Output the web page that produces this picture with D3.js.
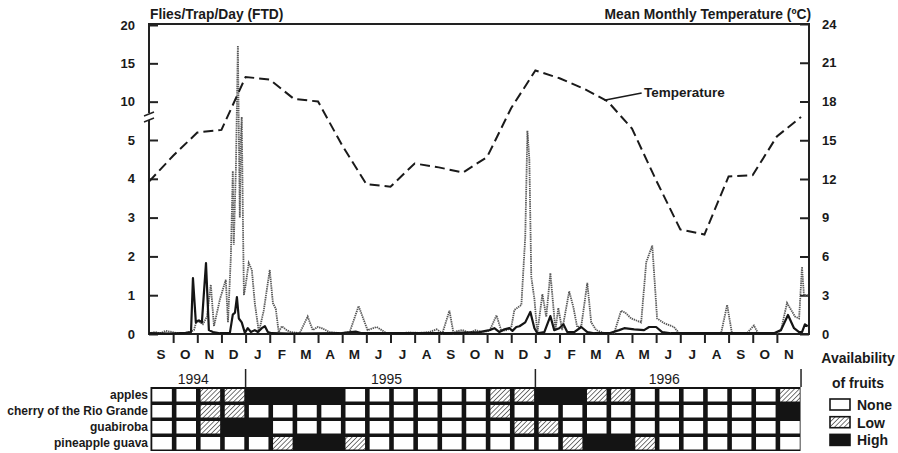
<!DOCTYPE html>
<html>
<head>
<meta charset="utf-8">
<script src="https://cdn.jsdelivr.net/npm/d3@7"></script>
<style>
body { margin: 0; background: #fff; }
text { font-family: "Liberation Sans", Arial, sans-serif; fill: #1a1a1a; }
</style>
</head>
<body>
<svg id="chart" width="898" height="453"></svg>
<script>
// months from Sep 1994 to Nov 1996
const monthLabels = ["S","O","N","D","J","F","M","A","M","J","J","A","S","O","N","D","J","F","M","A","M","J","J","A","S","O","N"];
const years = [["1994", 0, 4], ["1995", 4, 16], ["1996", 16, 27]];

// mean monthly temperature (ºC), one value per month boundary
const tempValues = [11.8,13.8,15.6,15.8,19.9,19.7,18.2,18.0,14.6,11.6,11.4,13.2,12.9,12.5,
                    13.7,17.5,20.4,19.8,19.0,18.0,15.9,11.9,8.1,7.7,12.2,12.3,15.3,16.8];

// flies/trap/day, time in months since 1 Sep 1994
const grayTime = [0,0.25,0.45,0.7,0.95,1.2,1.49,1.69,1.86,1.98,2.11,2.23,2.4,2.56,2.69,2.94,3.18,3.27,3.39,3.47,
  3.51,3.6,3.68,3.76,3.8,3.84,3.89,3.93,4.01,4.13,4.26,4.38,4.55,4.75,5.0,5.13,5.25,5.37,5.5,5.7,
  5.87,6.24,6.57,6.78,6.99,7.15,7.48,7.9,8.31,8.68,9.05,9.43,9.84,10.38,10.79,11.2,11.62,11.91,12.15,12.44,
  12.61,12.77,12.98,13.27,13.52,13.77,14.1,14.39,14.59,14.84,15.01,15.13,15.42,15.58,15.67,15.75,15.83,15.96,16.08,16.29,
  16.45,16.62,16.83,16.95,17.11,17.4,17.57,17.73,17.9,18.15,18.31,18.52,18.85,19.26,19.55,19.72,19.97,20.38,20.59,20.84,
  21.04,21.33,21.74,21.95,22.78,23.69,23.94,24.14,24.76,25.05,25.22,26.0,26.17,26.42,26.75,26.92,27.04,27.12,27.28];
const grayFTD = [0.02,0.05,0.02,0.08,0.05,0.02,0.03,0.05,0.1,0.36,0.3,0.25,0.45,1.27,0.2,0.9,1.4,0.3,2.0,4.2,
  2.3,4.3,17.3,3.0,5.0,8.0,2.9,1.0,1.3,1.83,1.65,0.8,0.05,0.6,1.65,0.8,0.65,0.05,0.2,0.1,
  0.05,0.02,0.45,0.1,0.18,0.15,0.05,0.02,0.05,0.72,0.1,0.18,0.02,0.02,0.04,0.03,0.05,0.12,0.02,0.6,
  0.02,0.08,0.1,0.03,0.1,0.05,0.08,0.48,0.08,0.1,0.2,0.62,0.75,2.5,6.2,4.5,1.47,0.9,0.02,1.03,
  0.44,1.57,0.1,0.67,0.1,1.1,0.7,0.18,0.2,1.32,0.3,0.1,0.02,0.02,0.6,0.55,0.4,0.3,1.85,2.28,
  0.4,0.28,0.18,0.02,0.02,0.02,0.75,0.02,0.02,0.22,0.02,0.02,0.1,0.8,0.45,0.4,1.73,1.0,1.0];

const blackTime = [0,0.87,1.53,1.74,1.82,1.94,2.07,2.19,2.36,2.48,2.65,2.94,3.35,3.47,3.56,3.64,3.72,3.84,3.97,4.09,
  4.22,4.38,4.51,4.67,4.8,4.92,5.08,5.83,7.9,8.56,8.81,12.44,13.68,14.1,14.3,14.51,14.72,14.92,15.05,15.21,
  15.34,15.58,15.79,15.96,16.08,16.37,16.62,16.78,16.99,17.16,17.32,17.61,17.9,18.15,18.44,19.06,19.47,19.68,20.09,20.5,
  20.71,21.0,21.25,21.62,25.88,26.17,26.46,26.71,26.92,27.04,27.16,27.28];
const blackFTD = [0.02,0.01,0.03,0.05,1.44,0.3,0.35,0.3,1.83,0.1,0.05,0.02,0.03,0.5,0.55,0.95,0.4,0.3,0.03,0.15,
  0.05,0.1,0.05,0.15,0.2,0.05,0.02,0.01,0.02,0.06,0.02,0.02,0.05,0.1,0.15,0.05,0.12,0.15,0.08,0.18,
  0.2,0.3,0.57,0.15,0.02,0.05,0.46,0.1,0.15,0.25,0.05,0.05,0.18,0.05,0.02,0.02,0.1,0.15,0.12,0.1,
  0.18,0.18,0.05,0.02,0.02,0.1,0.49,0.15,0.05,0.05,0.25,0.2];

// fruit availability: 0 none, 1 low, 2 high
const fruits = ["apples", "cherry of the Rio Grande", "guabiroba", "pineapple guava"];
const apples    = [0,0,1,1, 2,2,2,2,0,0,0,0,0,0,1,1, 2,2,1,1,0,0,0,0,0,0,1];
const cherry    = [0,0,1,1, 0,0,0,0,0,0,0,0,0,0,1,0, 0,0,0,0,0,0,0,0,0,0,2];
const guabiroba = [0,0,1,2, 2,0,0,0,0,0,0,0,0,0,0,1, 1,0,0,0,0,0,0,0,0,0,0];
const pineapple = [0,0,0,0, 0,1,2,2,1,0,0,0,0,0,0,0, 0,1,2,2,1,0,0,0,0,0,0];
const availability = [apples, cherry, guabiroba, pineapple];
const levels = ["None", "Low", "High"];

const flyTicks = [0,1,2,3,4,5,10,15,20];
const tempTicks = [0,3,6,9,12,15,18,21,24];

let svg = d3.select("#chart");

let x = d3.scaleLinear().domain([0, 27.33]).range([149, 809]);
let yFly = d3.scaleLinear().domain([0, 5, 20]).range([334, 140, 25]);
let yTemp = d3.scaleLinear().domain([0, 24]).range([334, 24]);

let defs = svg.append("defs");
let hatch = defs.append("pattern")
    .attr("id", "hatch")
    .attr("patternUnits", "userSpaceOnUse")
    .attr("width", 3.4).attr("height", 3.4)
    .attr("patternTransform", "rotate(45)");
hatch.append("rect").attr("width", 3.4).attr("height", 3.4).attr("fill", "#fff");
hatch.append("line")
    .attr("x1", 0).attr("y1", 0).attr("x2", 0).attr("y2", 3.4)
    .attr("stroke", "#4a4a4a").attr("stroke-width", 1.5);

const fillFor = v => v === 2 ? "#141414" : (v === 1 ? "url(#hatch)" : "#fff");

// frame
svg.append("rect")
    .attr("x", x.range()[0]).attr("y", yTemp(24))
    .attr("width", x.range()[1] - x.range()[0])
    .attr("height", yTemp(0) - yTemp(24))
    .attr("fill", "none").attr("stroke", "#222").attr("stroke-width", 2);

// left axis (ticks inward)
let leftAxis = d3.axisLeft(yFly).tickValues(flyTicks).tickSizeInner(-9).tickSizeOuter(0).tickPadding(14);
let gl = svg.append("g").attr("transform", "translate(149,0)").call(leftAxis);
gl.select(".domain").remove();
gl.selectAll(".tick line").attr("stroke", "#222").attr("stroke-width", 2);
gl.selectAll("text").style("font-size", "13px").style("font-weight", "bold").attr("fill", "#1a1a1a");

// right axis (ticks inward)
let rightAxis = d3.axisRight(yTemp).tickValues(tempTicks).tickSizeInner(-9).tickSizeOuter(0).tickPadding(13);
let gr = svg.append("g").attr("transform", "translate(809,0)").call(rightAxis);
gr.select(".domain").remove();
gr.selectAll(".tick line").attr("stroke", "#222").attr("stroke-width", 2);
gr.selectAll("text").style("font-size", "13px").style("font-weight", "bold").attr("fill", "#1a1a1a");

// axis break
let yb = yFly(8);
svg.append("rect").attr("x", 145).attr("y", yb - 4).attr("width", 8).attr("height", 7).attr("fill", "#fff");
[-3, 3].forEach(o => {
  svg.append("line")
    .attr("x1", 144).attr("y1", yb + o + 2).attr("x2", 154).attr("y2", yb + o - 2)
    .attr("stroke", "#222").attr("stroke-width", 1.5);
});

// bottom month ticks
let bottomAxis = d3.axisBottom(x).tickValues(d3.range(1, 27)).tickFormat("").tickSize(9).tickSizeOuter(0);
let gb = svg.append("g").attr("transform", "translate(0,334)").call(bottomAxis);
gb.select(".domain").remove();
gb.selectAll(".tick line").attr("stroke", "#222").attr("stroke-width", 2);

svg.append("g").selectAll("text")
  .data(monthLabels).join("text")
    .attr("x", (d, i) => x(i + 0.5))
    .attr("y", 359)
    .attr("text-anchor", "middle")
    .style("font-size", "13.5px").style("font-weight", "bold")
    .text(d => d);

// titles
svg.append("text").attr("x", 150).attr("y", 19)
    .style("font-size", "13.8px").style("font-weight", "bold")
    .text("Flies/Trap/Day (FTD)");
svg.append("text").attr("x", 811).attr("y", 19).attr("text-anchor", "end")
    .style("font-size", "13.8px").style("font-weight", "bold")
    .text("Mean Monthly Temperature (ºC)");

// fly lines
let grayData = grayTime.map((t, i) => [t, grayFTD[i]]);
let blackData = blackTime.map((t, i) => [t, blackFTD[i]]);
let flyLine = d3.line().x(d => x(d[0])).y(d => yFly(d[1]));

svg.append("path")
    .datum(grayData)
    .attr("d", flyLine)
    .attr("fill", "none")
    .attr("stroke", "#585858")
    .attr("stroke-width", 1.8)
    .attr("stroke-dasharray", "1.4 0.8");

svg.append("path")
    .datum(blackData)
    .attr("d", flyLine)
    .attr("fill", "none")
    .attr("stroke", "#151515")
    .attr("stroke-width", 2.2)
    .attr("stroke-linejoin", "round");

// temperature
let tempLine = d3.line().x((d, i) => x(i)).y(d => yTemp(d));
svg.append("path")
    .datum(tempValues)
    .attr("d", tempLine)
    .attr("fill", "none")
    .attr("stroke", "#1a1a1a")
    .attr("stroke-width", 2)
    .attr("stroke-dasharray", "10 5");

svg.append("line")
    .attr("x1", x(18.85)).attr("y1", yTemp(18.1))
    .attr("x2", x(20.4)).attr("y2", yTemp(18.65))
    .attr("stroke", "#1a1a1a").attr("stroke-width", 1.5);
svg.append("text").attr("x", x(20.5)).attr("y", 97)
    .style("font-size", "13.5px").style("font-weight", "bold")
    .text("Temperature");

// years
let gy = svg.append("g");
gy.selectAll("text").data(years).join("text")
    .attr("x", d => x((d[1] + d[2]) / 2) - 4)
    .attr("y", 384)
    .attr("text-anchor", "middle")
    .style("font-size", "14px")
    .text(d => d[0]);
gy.selectAll("line").data([4, 16, 27]).join("line")
    .attr("x1", d => x(d)).attr("x2", d => x(d))
    .attr("y1", 369).attr("y2", 387)
    .attr("stroke", "#222").attr("stroke-width", 1.5);

// availability grid: dark base, lighter cells cut out of it
let rowY = d3.scaleBand().domain(fruits).range([387, 451]);
let cellW = x(1) - x(0);

svg.append("rect")
    .attr("x", x(0) + 1.5).attr("y", rowY.range()[0])
    .attr("width", x(27) - x(0) - 2)
    .attr("height", rowY.range()[1] - rowY.range()[0])
    .attr("fill", "#141414");

fruits.forEach((f, r) => {
  let cells = availability[r].map((v, i) => ({v: v, i: i})).filter(d => d.v < 2);
  svg.append("g").selectAll("rect").data(cells).join("rect")
      .attr("x", d => x(d.i) + 3.3)
      .attr("y", rowY(f) + 2)
      .attr("width", cellW - 4.6)
      .attr("height", rowY.bandwidth() - 3.5)
      .attr("fill", d => fillFor(d.v));
  svg.append("text")
      .attr("x", 148).attr("y", rowY(f) + rowY.bandwidth() / 2 + 4)
      .attr("text-anchor", "end")
      .style("font-size", "12px").style("font-weight", "bold")
      .text(f);
});

// legend
svg.append("text").attr("x", 858).attr("y", 363).attr("text-anchor", "middle")
    .style("font-size", "14px").style("font-weight", "bold").text("Availability");
svg.append("text").attr("x", 858).attr("y", 388).attr("text-anchor", "middle")
    .style("font-size", "14px").style("font-weight", "bold").text("of fruits");

let lg = svg.append("g").selectAll("g").data(levels).join("g")
    .attr("transform", (d, i) => "translate(830," + (399 + i * 17.7) + ")");
lg.append("rect")
    .attr("width", 20).attr("height", 11)
    .attr("fill", (d, i) => fillFor(i))
    .attr("stroke", "#141414").attr("stroke-width", 1.6);
lg.append("text")
    .attr("x", 27).attr("y", 11)
    .style("font-size", "14px").style("font-weight", "bold")
    .text(d => d);
</script>
</body>
</html>
